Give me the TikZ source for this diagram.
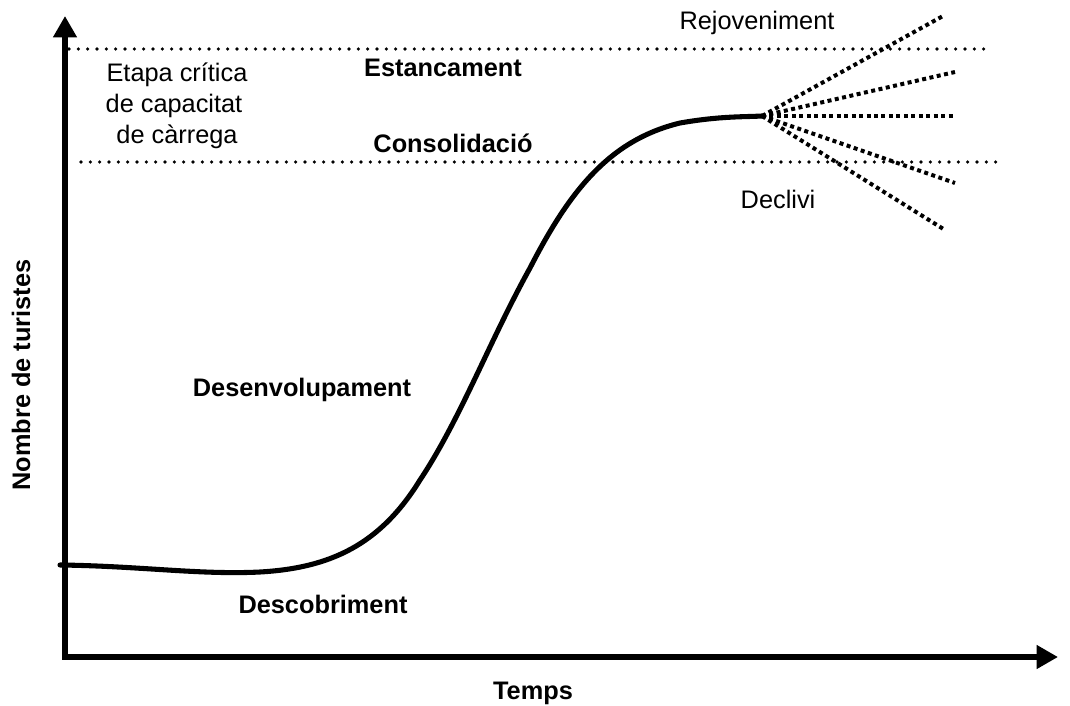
\documentclass[tikz,border=0pt]{standalone}
\usepackage{fontspec}
\setmainfont{Liberation Sans}
\usetikzlibrary{arrows.meta}

\begin{document}
\begin{tikzpicture}[
    x=0.75pt, y=-0.75pt,
    axis/.style={line width=3.9pt, -{Triangle[length=16pt, width=17pt]}},
    limit/.style={line width=2.7pt, line cap=round, dash pattern=on 0pt off 7pt},
    branch/.style={line width=3pt, dash pattern=on 3pt off 2.6pt},
    curve/.style={line width=3.8pt, line cap=round},
    label/.style={anchor=base, inner sep=0pt, font=\fontsize{19}{23}\selectfont},
    stage/.style={label, font=\fontsize{19}{23}\selectfont\bfseries}
]
    \useasboundingbox (0,0) rectangle (1070,706);

    % axes
    \coordinate (origin) at (65,657);
    \coordinate (ytop) at (65,16);
    \coordinate (xend) at (1058,657);
    \draw[axis] ([yshift=-2pt]origin) -- (ytop);
    \draw[axis] ([xshift=-2pt]origin) -- (xend);

    % capacity limits
    \coordinate (upperl) at (69,49);
    \coordinate (upperr) at (988,49);
    \coordinate (lowerl) at (81,162);
    \coordinate (lowerr) at (1000,162);
    \draw[limit] (upperl) -- (upperr);
    \draw[limit] (lowerl) -- (lowerr);

    % life cycle curve
    \coordinate (peak) at (762,116);
    \draw[curve] (60,565) .. controls (140,566) and (200,575) .. (260,572)
        .. controls (330,568) and (380,545) .. (420,480)
        .. controls (460,420) and (490,340) .. (530,268)
        .. controls (570,190) and (610,140) .. (680,123)
        .. controls (720,116) and (745,117) .. (peak);

    % future paths
    \coordinate (r1) at (943,16);
    \coordinate (r2) at (955,72);
    \coordinate (r3) at (955,116);
    \coordinate (r4) at (955,183);
    \coordinate (r5) at (945,230);
    \foreach \e in {r1,r2,r3,r4,r5}
        \draw[branch] (peak) -- (\e);

    % labels
    \node[label] (rejov) at (757,30) {Rejoveniment};
    \node[stage] (estanc) at (443,77) {Estancament};
    \node[label] (etapa1) at (177,82) {Etapa crítica};
    \node[label] (etapa2) at (174,113) {de capacitat};
    \node[label] (etapa3) at (177,144) {de càrrega};
    \node[stage] (consol) at (453,153) {Consolidació};
    \node[label] (decliv) at (778,209) {Declivi};
    \node[stage] (desenv) at (302,396) {Desenvolupament};
    \node[stage] (descob) at (323,613) {Descobriment};
    \node[stage] (temps) at (533,699) {Temps};
    \node[stage, anchor=center, rotate=90] (nombre) at (21,375) {Nombre de turistes};
\end{tikzpicture}
\end{document}
